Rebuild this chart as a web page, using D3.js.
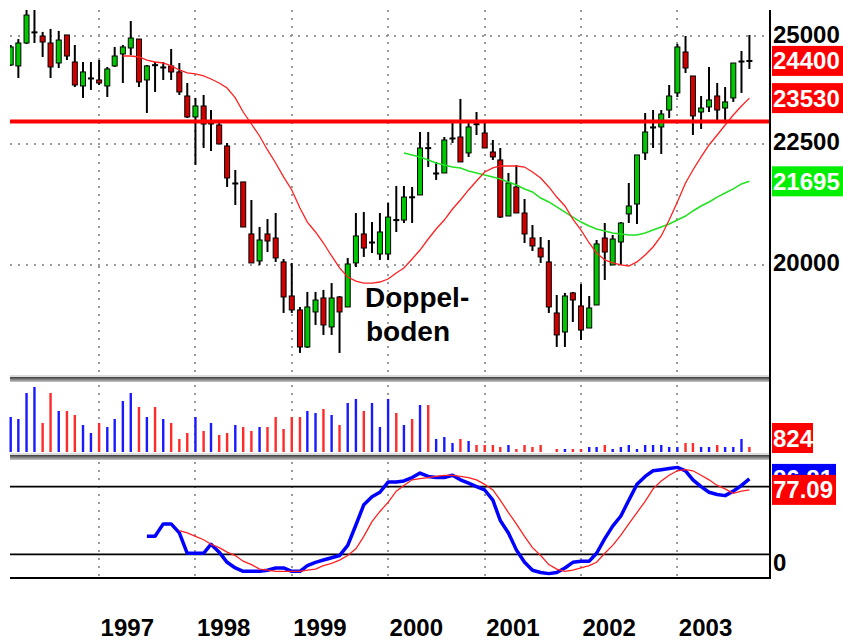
<!DOCTYPE html>
<html>
<head>
<meta charset="utf-8">
<script src="https://cdn.jsdelivr.net/npm/d3@7"></script>
<style>
  body { margin: 0; background: #fff; }
  svg { display: block; font-family: "Liberation Sans", Arial, sans-serif; }
</style>
</head>
<body>
<script>
// monthly candles, Feb 1996 .. Oct 2003
var firstMonth = new Date(1996, 1, 1);

var open  = [24303,24280,24830,25100,25000,24830,24350,25025,24374,23810,
             23997,23950,23810,24280,24565,24710,24926,23950,24310,24256,
             24280,24138,23579,23101,23350,22966,22921,22456,21660,21682,
             20609,20073,20609,20528,20054,19399,19136,18457,19099,19361,
             18821,19380,19192,20034,20609,20448,20210,20210,20900,20891,
             21370,21408,22420,21872,21872,22632,22654,22304,22950,22743,
             22325,22152,20973,21576,21035,20528,20328,20054,19080,18729,
             19457,19211,18802,19229,20528,19995,20448,21015,21220,22304,
             22877,22877,23258,23649,24613,24044,23213,23327,23579,23304,
             23534,24397,24410];
var high  = [24782,24926,25642,25642,25100,25173,25124,25025,24782,24374,
             24374,24421,24256,24734,24782,25369,24926,24303,24374,24374,
             24686,24350,23880,23534,23602,23258,22966,22522,21936,21682,
             21303,20749,20911,21035,20112,20034,19192,19476,19476,19514,
             19645,19399,20132,21035,21055,20850,21035,21241,21597,21597,
             21576,22765,22765,22109,22654,22988,23511,22988,23213,23033,
             22588,22412,21872,22044,21324,20790,20548,20488,19418,19457,
             19476,19626,19399,20488,20830,20589,20850,21660,22260,23190,
             23258,23258,23833,24806,25000,24044,23579,24256,23880,23787,
             24350,24637,25025];
var low   = [24280,23997,24806,24830,24493,23997,24232,24421,23787,23534,
             23718,23833,23556,24256,23880,24541,23787,23190,23672,23950,
             23950,23602,23078,22044,22412,22347,22500,21576,21200,20749,
             20034,19995,20249,20054,19080,19080,18350,18439,18858,18675,
             18675,18350,19192,19956,20152,20230,20093,20093,20649,20830,
             20830,21408,22000,21724,21872,22522,22109,22217,22698,22412,
             22152,20932,20973,21035,20428,20269,20034,19080,18457,18457,
             18913,18585,18802,19229,19703,19995,19995,20830,20810,22152,
             22412,22282,23078,23556,24114,22698,22832,23213,22988,22988,
             23442,23649,24209];
var close = [24734,24830,25517,25100,24854,24256,24902,24517,23833,24138,
             23997,23880,24209,24517,24734,24951,23903,24280,24303,24256,
             24138,23672,23101,23350,22943,22966,22500,21766,21660,20749,
             20034,20488,20468,20132,19380,19136,18457,19192,19323,18858,
             19361,19099,20014,20569,20328,20448,20649,20952,20891,21365,
             21365,22412,22412,21872,22588,22632,22109,22877,22943,22412,
             22217,20952,21660,21035,20609,20369,20152,19192,18675,19399,
             19323,18765,19173,20409,20249,20508,20830,21179,22260,22765,
             22877,23168,23579,24734,24232,23124,23304,23488,23258,23442,
             24350,24397,24400];
var volume = [5775,5445,9735,10725,4785,9735,6765,6765,6105,4455,
              3135,4785,4125,5445,8415,9735,7425,5775,7425,5445,
              4785,2145,3135,5775,3465,4785,2805,3135,4455,4125,
              3465,4125,4125,5775,3795,5775,5775,6765,6435,7095,
              6105,4455,8085,8745,6765,8085,4125,8745,6435,4455,
              5445,7755,7755,2145,2475,1485,2145,1815,1155,1155,
              1155,825,1155,495,1155,825,1155,0,495,495,
              495,495,825,825,1155,495,825,1155,495,1155,
              1155,1155,825,825,1485,1485,825,825,1155,825,
              825,2145,824];

// moving averages (start = month index of first value)
var maRedStart = 14;
var maRed = [24517,24517,24493,24421,24374,24350,24280,24185,24114,24091,
             24044,23973,23880,23764,23534,23213,22943,22676,22369,22087,
             21788,21513,21138,20850,20649,20428,20171,19937,19762,19684,
             19645,19645,19665,19723,19840,19937,20112,20288,20508,20709,
             20891,21117,21303,21513,21703,21894,21980,22022,22022,22022,
             22000,21894,21766,21576,21365,21179,20911,20688,20428,20230,
             20093,20034,19995,19975,20054,20191,20349,20569,20891,21262,
             21660,21936,22217,22478,22698,22921,23146,23350,23530];
var maGreenStart = 49;
var maGreen = [22304,22260,22217,22152,22087,22044,22000,21980,21915,21872,
               21830,21788,21745,21682,21618,21534,21471,21344,21262,21159,
               21055,20952,20850,20769,20709,20669,20629,20609,20589,20589,
               20629,20688,20749,20810,20891,20973,21076,21179,21262,21365,
               21450,21534,21639,21695];

// stochastic %K (blue) and %D (red)
var stochKStart = 17;
var stochK = [36,36,47,47,39,21,21,21,29,22,13,8,5,5,5,6,8,8,5,5,
              10,13,15,17,19,28,46,64,71,75,84,84,85,88,92,89,88,88,90,86,
              83,80,77,68,50,39,24,13,6,4,3,4,8,13,14,14,21,34,45,54,
              68,82,89,94,95,96,97,94,86,80,75,73,72,76,81,86.81];
var stochDStart = 21;
var stochD = [41,39,36,33,29,26,22,19,14,11,7,6,5,5,5,5,6,7,10,12,
              15,19,25,36,49,58,66,76,81,86,87,88,89,90,90,89,88,86,82,77,
              68,57,47,36,26,19,11,7,5,6,8,10,13,21,28,37,47,57,67,78,
              85,90,94,95,94,90,86,81,78,74,76,77.09];

var priceTicks = [20000, 22500, 25000];
var resistance = 23000;
var stochLevels = [20, 80];

var W = 843, H = 640;
var left = 10, right = 770;

var svg = d3.select("body").append("svg")
    .attr("width", W)
    .attr("height", H);

var months = open.map(function(d, i) { return d3.timeMonth.offset(firstMonth, i); });

var x = d3.scaleTime().domain([months[0], months[months.length - 1]]).range([10.7, 749.4]),
    y = d3.scaleLog().domain([20000, 25000]).range([264.7, 36]),
    yVol = d3.scaleLinear().domain([0, 11550]).range([452, 382]),
    ySto = d3.scaleLinear().domain([0, 100]).range([577, 464]);

var years = x.ticks(d3.timeYear.every(1));

var defs = svg.append("defs");
defs.append("clipPath").attr("id", "clipMain")
  .append("rect").attr("x", left).attr("y", 0).attr("width", right - left).attr("height", 375);
var grad = defs.append("linearGradient").attr("id", "sepGrad")
    .attr("x1", 0).attr("x2", 0).attr("y1", 0).attr("y2", 1);
grad.append("stop").attr("offset", "0%").attr("stop-color", "#3a3a3a");
grad.append("stop").attr("offset", "55%").attr("stop-color", "#8a8a8a");
grad.append("stop").attr("offset", "100%").attr("stop-color", "#c8c8c8");

var dotted = function(sel) {
  sel.attr("stroke", "#9a9a9a").attr("stroke-width", 2).attr("stroke-dasharray", "2,6");
};

// ---- grid lines
function vGrid(y1, y2) {
  svg.append("g").selectAll("line").data(years).enter().append("line")
      .attr("x1", function(d) { return Math.round(x(d)); })
      .attr("x2", function(d) { return Math.round(x(d)); })
      .attr("y1", y1).attr("y2", y2)
      .call(dotted);
}
vGrid(10, 375);
vGrid(385, 450);
vGrid(462, 577);

svg.append("g").selectAll("line").data(priceTicks).enter().append("line")
    .attr("x1", left).attr("x2", right - 2)
    .attr("y1", function(d) { return Math.round(y(d)); })
    .attr("y2", function(d) { return Math.round(y(d)); })
    .call(dotted);

// ---- candles
var main = svg.append("g").attr("clip-path", "url(#clipMain)");
var idx = d3.range(open.length);

main.selectAll(".wick").data(idx).enter().append("line")
    .attr("class", "wick")
    .attr("x1", function(i) { return x(months[i]); })
    .attr("x2", function(i) { return x(months[i]); })
    .attr("y1", function(i) { return y(high[i]); })
    .attr("y2", function(i) { return y(low[i]); })
    .attr("stroke", "#000").attr("stroke-width", 2);

main.selectAll(".body").data(idx).enter().append("rect")
    .attr("class", "body")
    .attr("x", function(i) { return x(months[i]) - 2.5; })
    .attr("width", 5)
    .attr("y", function(i) { return Math.min(y(open[i]), y(close[i])); })
    .attr("height", function(i) { return Math.max(1, Math.abs(y(open[i]) - y(close[i]))); })
    .attr("fill", function(i) {
      if (Math.abs(y(open[i]) - y(close[i])) < 1.5) return "#000";
      return close[i] > open[i] ? "#00c800" : "#d00000";
    })
    .attr("stroke", "#000").attr("stroke-width", 1);

// moving averages
var lineMain = d3.line()
    .x(function(d) { return x(months[d.i]); })
    .y(function(d) { return y(d.v); });

main.append("path")
    .datum(maGreen.map(function(v, k) { return {i: k + maGreenStart, v: v}; }))
    .attr("d", lineMain)
    .attr("fill", "none").attr("stroke", "#22e022").attr("stroke-width", 1.5);

main.append("path")
    .datum(maRed.map(function(v, k) { return {i: k + maRedStart, v: v}; }))
    .attr("d", lineMain)
    .attr("fill", "none").attr("stroke", "#ff2020").attr("stroke-width", 1.3);

// resistance
svg.append("line")
    .attr("x1", left).attr("x2", right)
    .attr("y1", y(resistance)).attr("y2", y(resistance))
    .attr("stroke", "#ff0000").attr("stroke-width", 4);

// Doppelboden note
var note = svg.append("text")
    .attr("x", 365).attr("y", 307)
    .style("font", "bold 28px 'Liberation Sans', Arial, sans-serif")
    .attr("fill", "#000");
note.append("tspan").attr("x", 365).attr("y", 307).text("Doppel-");
note.append("tspan").attr("x", 366).attr("y", 341).text("boden");

// ---- volume
svg.append("g").selectAll("rect").data(idx.filter(function(i) { return volume[i] > 0; }))
  .enter().append("rect")
    .attr("x", function(i) { return x(months[i]) - 1.2; })
    .attr("width", 2.4)
    .attr("y", function(i) { return yVol(volume[i]); })
    .attr("height", function(i) { return yVol(0) - yVol(volume[i]); })
    .attr("fill", function(i) { return close[i] >= open[i] ? "#1a1aff" : "#ff2a2a"; });

// ---- stochastic
svg.append("g").selectAll("line").data(stochLevels).enter().append("line")
    .attr("x1", left).attr("x2", right)
    .attr("y1", function(d) { return ySto(d); })
    .attr("y2", function(d) { return ySto(d); })
    .attr("stroke", "#000").attr("stroke-width", 1.6);

var lineSto = d3.line()
    .x(function(d) { return x(months[d.i]); })
    .y(function(d) { return ySto(d.v); });

svg.append("path")
    .datum(stochK.map(function(v, k) { return {i: k + stochKStart, v: v}; }))
    .attr("d", lineSto)
    .attr("fill", "none").attr("stroke", "#0000ff").attr("stroke-width", 3.5)
    .attr("stroke-linejoin", "round");

svg.append("path")
    .datum(stochD.map(function(v, k) { return {i: k + stochDStart, v: v}; }))
    .attr("d", lineSto)
    .attr("fill", "none").attr("stroke", "#ff2020").attr("stroke-width", 1.3);

// ---- panel separators and frame
function separator(top) {
  svg.append("rect").attr("x", left).attr("y", top).attr("width", right - left).attr("height", 2)
      .attr("fill", "#dcdcdc");
  svg.append("rect").attr("x", left).attr("y", top + 2).attr("width", right - left).attr("height", 5)
      .attr("fill", "url(#sepGrad)");
}
separator(375);
separator(453);

svg.append("line").attr("x1", left).attr("x2", right + 1).attr("y1", 578).attr("y2", 578)
    .attr("stroke", "#000").attr("stroke-width", 2);
svg.append("line").attr("x1", right).attr("x2", right).attr("y1", 10).attr("y2", 579)
    .attr("stroke", "#000").attr("stroke-width", 2);

// ---- x axis (years)
svg.append("g")
    .attr("transform", "translate(0,612)")
    .call(d3.axisBottom(x).ticks(d3.timeYear.every(1)).tickFormat(d3.timeFormat("%Y")).tickSize(0))
    .call(function(g) { g.select(".domain").remove(); })
  .selectAll("text")
    .attr("text-anchor", "start")
    .attr("x", 1).attr("y", 24).attr("dy", 0)
    .attr("fill", "#000")
    .style("font", "bold 24px 'Liberation Sans', Arial, sans-serif");

// ---- right side labels
var labelFont = "bold 24px 'Liberation Sans', Arial, sans-serif";

svg.append("g").selectAll("text").data(priceTicks).enter().append("text")
    .attr("x", 773)
    .attr("y", function(d) { return y(d) + 6.5; })
    .style("font", labelFont)
    .attr("fill", "#000")
    .text(function(d) { return d; });

function valueBox(cy, w, fill, txt) {
  svg.append("rect").attr("x", 772).attr("y", cy - 15).attr("width", w).attr("height", 30)
      .attr("fill", fill);
  svg.append("text").attr("x", 773).attr("y", cy + 8.5)
      .style("font", labelFont).attr("fill", "#fff").text(txt);
}
var lastI = open.length - 1;
valueBox(y(close[lastI]), 71, "#ff0000", d3.format("d")(close[lastI]));
valueBox(y(maRed[maRed.length - 1]), 71, "#ff0000", d3.format("d")(maRed[maRed.length - 1]));
valueBox(y(maGreen[maGreen.length - 1]), 71, "#00ee00", d3.format("d")(maGreen[maGreen.length - 1]));
valueBox(438, 41, "#ff0000", d3.format("d")(volume[lastI]));
valueBox(ySto(stochK[stochK.length - 1]), 64, "#0000ff", d3.format(".2f")(stochK[stochK.length - 1]));
valueBox(ySto(stochD[stochD.length - 1]), 64, "#ff0000", d3.format(".2f")(stochD[stochD.length - 1]));

svg.append("text").attr("x", 773).attr("y", 571)
    .style("font", labelFont).attr("fill", "#000").text("0");
</script>
</body>
</html>
